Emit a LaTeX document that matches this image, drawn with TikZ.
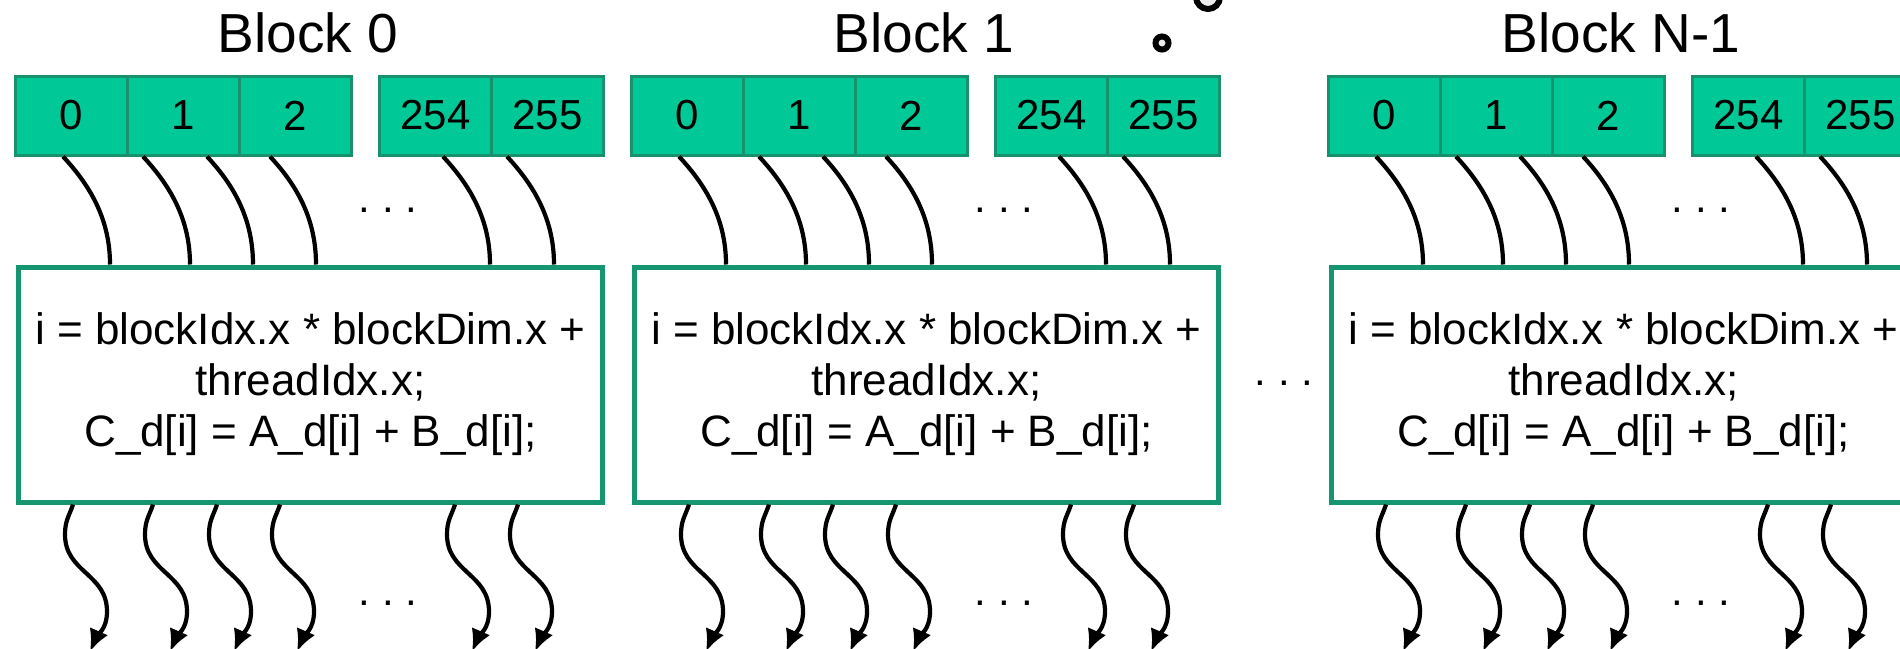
\documentclass[tikz,border=0pt]{standalone}
\usepackage{fontspec}
\setmainfont{Liberation Sans}
\usetikzlibrary{arrows.meta,calc}

\definecolor{cellfill}{RGB}{0,201,151}
\definecolor{celledge}{RGB}{24,146,108}
\definecolor{boxedge}{RGB}{22,150,112}
\definecolor{ringfill}{RGB}{236,236,236}

\tikzset{
  cellbox/.style={draw=celledge, fill=cellfill, line width=1.5pt,
    minimum width=56pt, minimum height=39.5pt, inner sep=0pt,
    anchor=north west, font=\fontsize{21}{24}\selectfont},
  kernelbox/.style={draw=boxedge, fill=white, line width=2.5pt,
    minimum width=292pt, minimum height=117.5pt, inner sep=0pt,
    anchor=north west, align=center, font=\fontsize{22}{25.5}\selectfont},
  blocktitle/.style={anchor=base, font=\fontsize{27.5}{32}\selectfont},
  thread/.style={draw=black, line width=2.1pt},
  threadout/.style={thread, -{Latex[length=11pt,width=10pt]}},
  gapdots/.style={inner sep=0pt, font=\fontsize{21}{24}\selectfont},
  ring/.style={draw=black, fill=ringfill, line width=3pt}
}

\begin{document}
\begin{tikzpicture}[x=0.5pt, y=-0.5pt]
  \useasboundingbox (0,0) rectangle (1900,648);
  \clip (0,0) rectangle (1900,648);

  % one thread block: title, thread cells, kernel body and thread paths
  \foreach \off/\lab [count=\b] in {0/0, 616/1, 1313/N-1} {
    \node[blocktitle] (t\b) at (\off+308,52) {Block \lab};

    \foreach \cx/\cl [count=\c] in {14/0, 126/1, 238/2, 378/254, 490/255}
      \node[cellbox] (c\b-\c) at (\off+\cx,74.5) {\cl};

    \node[kernelbox] (k\b) at (\off+16,264.5)
      {i = blockIdx.x * blockDim.x +\\ threadIdx.x;\\ C\_d[i] = A\_d[i] + B\_d[i];};

    % threads entering the kernel
    \foreach \ci/\sx/\ex in {1/49/94, 2/17/174, 2/81/237, 3/32/300, 4/65/474, 5/17/538}
      \draw[thread] ($(c\b-\ci.south west)+(\sx,0)$)
        .. controls +(30,32) and +(0,-42) .. ($(k\b.north west)+(\ex,0)$);

    % threads leaving the kernel
    \foreach \bx in {57, 137, 201, 264, 439, 502}
      \draw[threadout] ($(k\b.south west)+(\bx,0)$)
        .. controls +(-4,12) and +(0,-14) .. ++(-8,30)
        .. controls +(0,38) and +(0,-38) .. ++(42,77)
        .. controls +(0,18) and +(7,-16) .. ++(-17,40);

    \node[gapdots] (dt\b) at (\off+388,210) {.\ .\ .};
    \node[gapdots] (db\b) at (\off+388,603) {.\ .\ .};
  }

  % elided blocks between Block 1 and Block N-1
  \node[gapdots] (dmid) at (1284,383) {.\ .\ .};

  % bubble rings
  \draw[ring] (1162,43) circle[radius=6.5];
  \draw[ring] (1208,-3) circle[radius=12];
\end{tikzpicture}
\end{document}
